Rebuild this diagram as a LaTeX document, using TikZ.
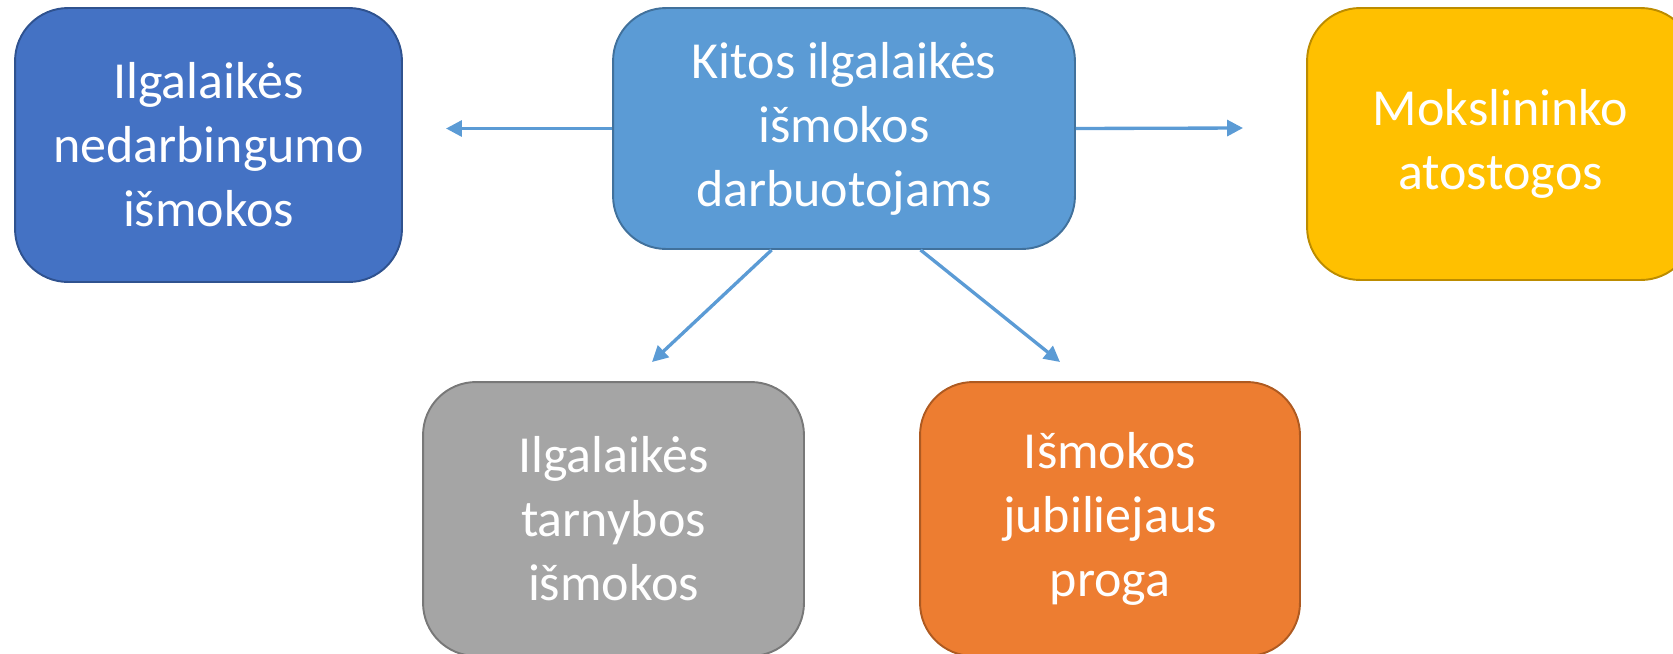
\documentclass[tikz,border=0pt]{standalone}
\usepackage{fontspec}
\setmainfont{Carlito}
\usepackage{tikz}
\usetikzlibrary{arrows.meta, calc}
\definecolor{nedarbfill}{HTML}{4472C4}
\definecolor{nedarbline}{HTML}{2F528F}
\definecolor{kitosfill}{HTML}{5B9BD5}
\definecolor{kitosline}{HTML}{41719C}
\definecolor{moksfill}{HTML}{FFC000}
\definecolor{moksline}{HTML}{BC8C00}
\definecolor{tarnfill}{HTML}{A5A5A5}
\definecolor{tarnline}{HTML}{787878}
\definecolor{jubfill}{HTML}{ED7D31}
\definecolor{jubline}{HTML}{AE5A21}
\tikzset{
    benefit/.style={rectangle, rounded corners=1.06cm, line width=1.1pt, text=white,
        align=center, inner sep=0pt, font=\fontsize{29.6}{36.4}\selectfont},
    link/.style={draw=kitosfill, line width=1.9pt, -{Triangle[length=9pt,width=9pt]}}
}

\begin{document}
\begin{tikzpicture}[x=0.02cm, y=-0.02cm]
            \useasboundingbox (0,0) rectangle (1673,653);
            \clip (0,0) rectangle (1673,653);

            \node[benefit, fill=kitosfill, draw=kitosline, minimum width=9.24cm, minimum height=4.82cm] (kitos) at (844,128.5) {Kitos ilgalaikės\\išmokos\\darbuotojams};
            \node[benefit, fill=nedarbfill, draw=nedarbline, minimum width=7.74cm, minimum height=5.48cm] (nedarb) at (208.5,145) {Ilgalaikės\\nedarbingumo\\išmokos};
            \node[benefit, fill=moksfill, draw=moksline, minimum width=7.74cm, minimum height=5.44cm] (moks) at (1500.5,144) {Mokslininko\\atostogos};
            \node[benefit, fill=tarnfill, draw=tarnline, minimum width=7.62cm, minimum height=5.48cm] (tarn) at (613.5,519) {Ilgalaikės\\tarnybos\\išmokos};
            \node[benefit, fill=jubfill, draw=jubline, minimum width=7.6cm, minimum height=5.48cm] (jub) at (1110,519) {Išmokos\\jubiliejaus\\proga};

            % free arrow ends
            \coordinate (toleft) at (446,128.5);
            \coordinate (toright) at (1243,128);
            \coordinate (todownl) at (652,362);
            \coordinate (todownr) at (1060,362);

            \draw[link] (kitos.west) -- (toleft);
            \draw[link] (kitos.east) -- (toright);
            \draw[link] ($(kitos.south west)!0.344!(kitos.south east)$) -- (todownl);
            \draw[link] ($(kitos.south west)!0.665!(kitos.south east)$) -- (todownr);
        \end{tikzpicture}
\end{document}
